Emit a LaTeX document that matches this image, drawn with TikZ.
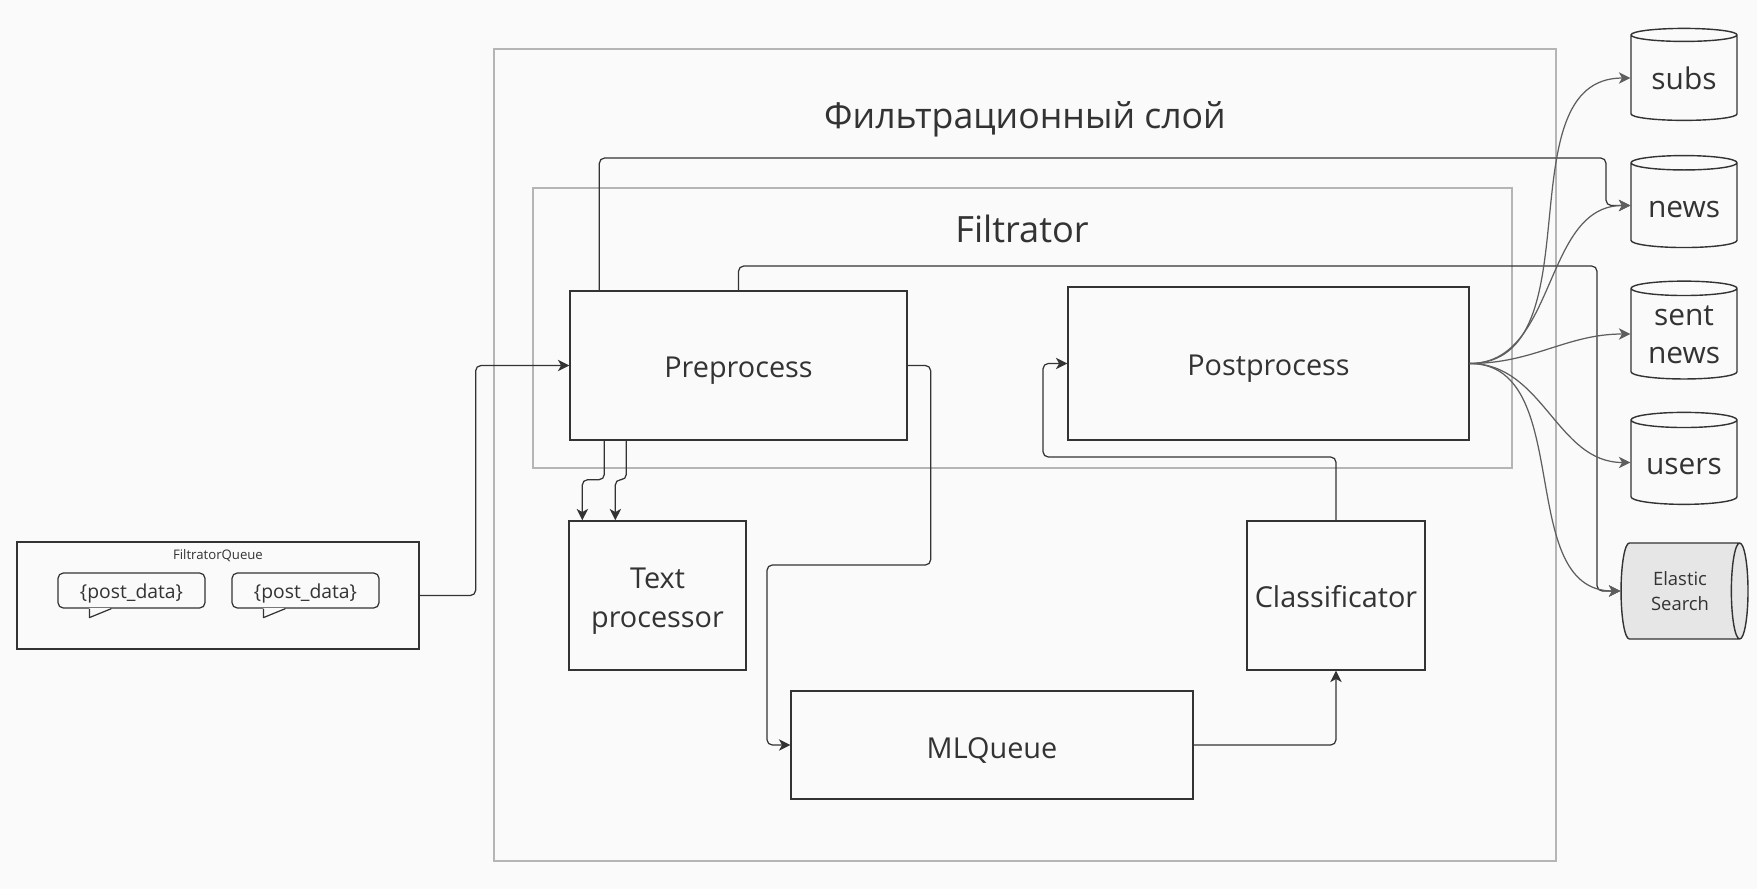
\documentclass[tikz,border=0pt]{standalone}
\usepackage{fontspec}
\setmainfont{Open Sans}
\usetikzlibrary{shapes.geometric}
\usetikzlibrary{arrows.meta,calc}
\usepackage{xcolor}
\definecolor{bgcol}{HTML}{FAFAFA}
\definecolor{inkcol}{HTML}{333333}
\definecolor{framecol}{HTML}{B5B5B5}
\definecolor{fancol}{HTML}{5E5E5E}
\definecolor{escol}{HTML}{E6E6E6}
\newcommand{\nudge}[2]{\raisebox{#1}[\height][\depth]{\begin{tabular}{@{}c@{}}#2\end{tabular}}}

\begin{document}
\begin{tikzpicture}[x=0.02cm,y=-0.02cm,
  box/.style={draw=inkcol,line width=0.8pt,text=inkcol,font=\fontsize{16.4}{22}\selectfont,align=center,
    execute at begin node={\rule{0pt}{1.1em}}},
  frame/.style={draw=framecol,line width=0.8pt},
  conn/.style={draw=inkcol,line width=0.7pt,rounded corners=3pt,-{Stealth[length=6.5pt,width=6.5pt,inset=1.8pt]}},
  fan/.style={draw=fancol,line width=0.7pt,-{Stealth[length=6.5pt,width=6.5pt,inset=1.8pt]}},
  db/.style={cylinder,shape border rotate=90,aspect=0.2,draw=inkcol,line width=0.8pt,text=inkcol,
    minimum width=2.12cm,minimum height=1.84cm,inner sep=0pt,align=center,
    font=\fontsize{17}{21.5}\selectfont,execute at begin node={\rule{0pt}{0.8em}}},
  bubble/.style={draw=inkcol,line width=0.7pt,rounded corners=3pt,text=inkcol,
    minimum width=2.94cm,minimum height=0.7cm,inner sep=0pt,font=\fontsize{11}{12}\selectfont,
    execute at begin node={\rule{0pt}{1.05em}}}]
\fill[bgcol] (0,0) rectangle (1757,889);
\useasboundingbox (0,0) rectangle (1757,889);

% layer and service frames
\draw[frame] (494,49) rectangle (1556,861);
\node[text=inkcol,font=\fontsize{20.3}{24}\selectfont] (layer) at (1025,119) {Фильтрационный слой};
\draw[frame] (533,188) rectangle (1512,468);
\node[text=inkcol,font=\fontsize{20.6}{24}\selectfont] (filt) at (1022,229) {Filtrator};

% queue
\node[box,minimum width=8.04cm,minimum height=2.14cm] (queue) at (218,595.5) {};
\node[text=inkcol,font=\fontsize{7.5}{9}\selectfont] (qname) at (218,556) {FiltratorQueue};
\node[bubble] (b1) at (131.5,590.5) {\{post\_data\}};
\node[bubble] (b2) at (305.5,590.5) {\{post\_data\}};
\foreach \b in {b1,b2}{
  \fill[bgcol] ($(\b.south west)+(32,-1)$) rectangle ($(\b.south west)+(54,1)$);
  \draw[inkcol,line width=0.7pt,line join=round] ($(\b.south west)+(32,0)$) -- ++(0,9) -- ++(22,-9);
}

% blocks
\node[box,minimum width=6.74cm,minimum height=2.98cm] (pre) at (738.5,365.5) {Preprocess};
\node[box,minimum width=8.02cm,minimum height=3.06cm] (post) at (1268.5,363.5) {Postprocess};
\node[box,minimum width=3.54cm,minimum height=2.98cm] (txt) at (657.5,595.5) {\nudge{-2.8pt}{Text\\processor}};
\node[box,minimum width=8.04cm,minimum height=2.16cm] (mlq) at (992,745) {MLQueue};
\node[box,minimum width=3.56cm,minimum height=2.98cm] (cls) at (1336,595.5) {\nudge{-0.8pt}{Classificator}};

% storages
\node[db] (subs) at (1684,78) {subs};
\node[db] (news) at (1684,205.5) {news};
\node[db] (sent) at (1684,334) {\nudge{-1.6pt}{sent\\news}};
\node[db] (users) at (1684,462.5) {users};
\node[cylinder,aspect=0.42,draw=inkcol,fill=escol,line width=0.8pt,text=inkcol,
  minimum width=1.92cm,minimum height=2.54cm,inner sep=0pt,align=center,
  font=\fontsize{10.5}{14.5}\selectfont] (es) at (1680,591) {Elastic\\Search};

% connectors
\draw[conn] (queue.east) -- ++(56,0) |- (pre.west);
\draw[conn] ($(pre.south west)+(35,0)$) -- ++(0,39) -| ($(txt.north west)+(14,0)$);
\draw[conn] ($(pre.south west)+(57,0)$) -- ++(0,39) -| ($(txt.north west)+(47,0)$);
\draw[conn] (pre.east) -- ++(23,0) |- (767,565) |- (mlq.west);
\draw[conn] (mlq.east) -| (cls.south);
\draw[conn] (cls.north) |- (1043,457) |- (post.west);
\draw[conn] ($(pre.north west)+(30,0)$) |- (1606,158) |- (news.180);
\draw[conn] (pre.north) |- (1597,266) |- (es.west);

\draw[fan] (post.east) to[out=0,in=180] (subs.180);
\draw[fan] (post.east) to[out=0,in=180] (news.180);
\draw[fan] (post.east) to[out=0,in=180] (sent.180);
\draw[fan] (post.east) to[out=0,in=180] (users.180);
\draw[fan] (post.east) to[out=0,in=180] (es.west);
\end{tikzpicture}
\end{document}
